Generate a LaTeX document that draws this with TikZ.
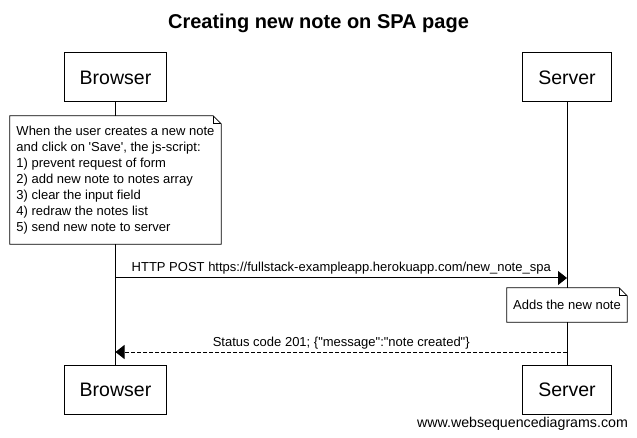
\documentclass[tikz,border=0pt]{standalone}
\usepackage{fontspec}
\setmainfont{Liberation Sans}
\usetikzlibrary{arrows.meta}
\begin{document}
\begin{tikzpicture}[x=1pt,y=-1pt]
        \useasboundingbox (0,0) rectangle (637,438);
        \node[anchor=base] (title) at (318.5,29) {\fontsize{20}{24}\selectfont\bfseries Creating new note on SPA page};
        \begin{scope}[every node/.style={draw=black, line width=1pt, fill=white, inner xsep=15.5pt, minimum height=49pt, font=\fontsize{19.5}{23}\selectfont}]
          \node (browserTop) at (115.5,77.5) {Browser};
          \node (serverTop)  at (567,77.5)   {Server};
          \node (browserBot) at (115.5,389.5) {Browser};
          \node (serverBot)  at (567,389.5)   {Server};
        \end{scope}
        \begin{scope}[every edge/.style={draw=black, line width=1pt}]
          \path (browserTop) edge (browserBot);
          \path (serverTop) edge (serverBot);
        \end{scope}
        \begin{scope}[every node/.style={fill=white, inner xsep=5pt, font=\fontsize{13}{16}\selectfont}]
          \node[align=left, minimum width=211pt, minimum height=128pt] (jsNote) at (115.5,180)
            {When the user creates a new note\\and click on \textquotesingle Save\textquotesingle, the js-script:\\1) prevent request of form\\2) add new note to notes array\\3) clear the input field\\4) redraw the notes list\\5) send new note to server};
          \node[minimum width=120pt, minimum height=34pt] (serverNote) at (567,305) {Adds the new note};
        \end{scope}
        \begin{scope}[line width=0.8pt]
          \draw (jsNote.south west) -- (jsNote.north west) -- ([xshift=-8pt]jsNote.north east)
            -- ([yshift=-8pt]jsNote.north east) -- (jsNote.south east) -- cycle;
          \draw ([xshift=-8pt]jsNote.north east) -- ([xshift=-8pt,yshift=-8pt]jsNote.north east) -- ([yshift=-8pt]jsNote.north east);
          \draw (serverNote.south west) -- (serverNote.north west) -- ([xshift=-8pt]serverNote.north east)
            -- ([yshift=-8pt]serverNote.north east) -- (serverNote.south east) -- cycle;
          \draw ([xshift=-8pt]serverNote.north east) -- ([xshift=-8pt,yshift=-8pt]serverNote.north east) -- ([yshift=-8pt]serverNote.north east);
        \end{scope}
        \coordinate (postFrom) at (115.5,278);
        \coordinate (postTo)   at (567,278);
        \coordinate (replyFrom) at (567,352);
        \coordinate (replyTo)   at (115.5,352);
        \begin{scope}[every node/.style={font=\fontsize{13}{16}\selectfont, anchor=base, midway, yshift=6pt}]
          \draw[line width=1pt, -{Triangle[length=9pt,width=14pt]}] (postFrom) -- node (postLabel) {HTTP POST https://fullstack-exampleapp.herokuapp.com/new\_note\_spa} (postTo);
          \draw[line width=1pt, dash pattern=on 4pt off 2pt, -{Triangle[length=9pt,width=14pt]}] (replyFrom) -- node (replyLabel) {Status code 201; \{\textquotedbl message\textquotedbl:\textquotedbl note created\textquotedbl\}} (replyTo);
        \end{scope}
        \node[anchor=base, font=\fontsize{14.2}{17}\selectfont] (footer) at (522.5,427) {www.websequencediagrams.com};
      \end{tikzpicture}
\end{document}
